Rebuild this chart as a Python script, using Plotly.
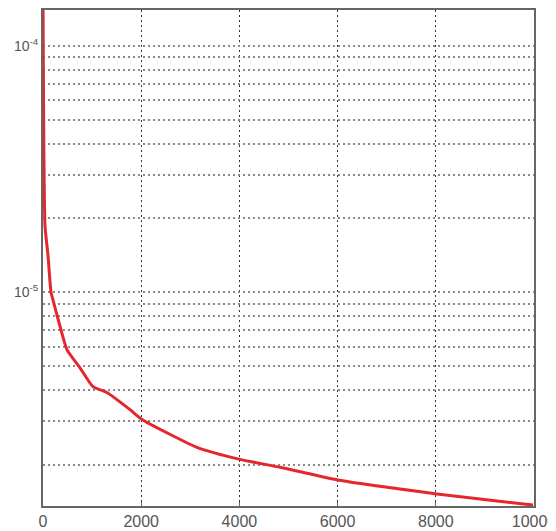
import plotly.graph_objects as go
import numpy as np

# Data (iteration vs. error, log scale)
iterations = [0, 41, 102, 163, 204, 367, 489, 754, 1018, 1303, 1772, 2016,
              3136, 4012, 4827, 6008, 8024, 9980]
error_vals = [1.6e-4, 1.86e-5, 1.41e-5, 1.0e-5, 9.29e-6, 7.03e-6, 5.84e-6,
              4.94e-6, 4.14e-6, 3.92e-6, 3.34e-6, 3.05e-6, 2.35e-6, 2.10e-6,
              1.95e-6, 1.73e-6, 1.52e-6, 1.37e-6]

x_ticks = [0, 2000, 4000, 6000, 8000, 10000]
x_tick_labels = ["0", "2000", "4000", "6000", "8000", "10000"]

decades = [1e-6, 1e-5, 1e-4]
y_ticks = []
y_tick_labels = []
for d in decades:
    for m in range(1, 10):
        v = d * m
        y_ticks.append(v)
        if m == 1 and d in (1e-5, 1e-4):
            y_tick_labels.append("10<sup>%d</sup>" % int(round(np.log10(d))))
        else:
            y_tick_labels.append(" ")

fig = go.Figure()
fig.add_trace(go.Scatter(
    x=iterations, y=error_vals, mode="lines",
    line=dict(color="#e5262e", width=3, shape="spline", smoothing=0.5),
    showlegend=False,
))

# page body adds an 8px offset; margins compensate
fig.update_layout(
    width=556, height=531,
    margin=dict(l=35, r=30, t=0, b=33),
    paper_bgcolor="white", plot_bgcolor="white",
    font=dict(family="Liberation Sans, Arial, sans-serif", size=15, color="#555555"),
)
fig.update_xaxes(
    range=[0, 10000], tickvals=x_ticks, ticktext=x_tick_labels,
    showgrid=True, gridcolor="#333333", griddash="2px,3px", gridwidth=1.3,
    showline=True, linecolor="#666666", linewidth=2, mirror=True,
    ticks="inside", ticklen=4, tickcolor="#666666", ticklabeloverflow="allow",
    zeroline=False, tickfont=dict(size=16, color="#555555"),
)
fig.update_yaxes(
    type="log", range=[-5.867, -3.855],
    tickvals=y_ticks, ticktext=y_tick_labels,
    showgrid=True, gridcolor="#8a8a8a", griddash="2px,3px", gridwidth=1.5,
    showline=True, linecolor="#666666", linewidth=2, mirror=True,
    ticks="", zeroline=False, tickfont=dict(size=14, color="#555555"),
)

fig.write_html("out.html")
